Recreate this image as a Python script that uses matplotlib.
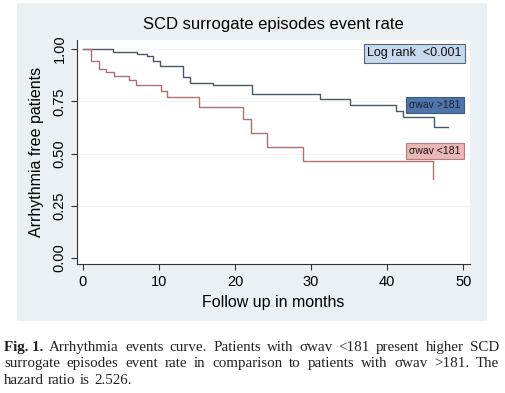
import matplotlib
matplotlib.use("Agg")
import matplotlib.pyplot as plt
from matplotlib.patches import Rectangle

# Kaplan-Meier steps
high_t = [0, 3.9, 7.1, 8.4, 9.2, 10.1, 13.1, 14.1, 17.1, 22.2, 31.2, 35.1, 41.1, 42.1, 46.1, 48.0]
high_s = [1.0, 0.984, 0.976, 0.967, 0.943, 0.919, 0.866, 0.839, 0.826, 0.785, 0.761, 0.731, 0.705, 0.673, 0.628, 0.628]

low_t = [0, 1.0, 2.1, 3.1, 4.1, 6.0, 7.0, 10.2, 11.0, 15.2, 21.1, 22.1, 24.2, 29.0, 46.0]
low_s = [1.0, 0.944, 0.907, 0.892, 0.872, 0.852, 0.828, 0.799, 0.772, 0.724, 0.664, 0.600, 0.533, 0.466, 0.38]

x_ticks = [0, 10, 20, 30, 40, 50]
y_ticks = [0.0, 0.25, 0.5, 0.75, 1.0]
y_ticklabels = ["0.00", "0.25", "0.50", "0.75", "1.00"]

caption = [
    "Arrhythmia events curve. Patients with σwav <181 present higher SCD",
    "surrogate episodes event rate in comparison to patients with σwav >181. The",
    "hazard ratio is 2.526.",
]

plt.rcParams['font.family'] = ['Liberation Sans', 'DejaVu Sans']

fig = plt.figure(figsize=(5.06, 3.93), dpi=100)
fig.patch.set_facecolor('white')

# stata-like grey panel behind the plot
fig.patches.append(Rectangle((0.0336, 0.183), 0.929, 0.809, transform=fig.transFigure,
                             facecolor='#eaf0f3', edgecolor='none', zorder=-5))

ax = fig.add_axes([0.152, 0.328, 0.777, 0.570])
ax.set_zorder(2)
ax.set_facecolor('white')
ax.set_xlim(-0.79, 50.9)
ax.set_ylim(-0.029, 1.043)

for yv in y_ticks[1:]:
    ax.axhline(yv, color='#f1f4f6', lw=0.8, zorder=1)

ax.step(high_t, high_s, where='post', color='#4a5866', lw=1.0, zorder=3)
ax.step(low_t, low_s, where='post', color='#b07070', lw=1.0, zorder=3)

ax.text(43.6, 0.979, "Log rank  <0.001", ha='center', va='center', fontsize=9, color='#111111',
        bbox=dict(boxstyle='square,pad=0.25', facecolor='#c6d9ee', edgecolor='#5a6470', lw=0.8), zorder=5)
ax.text(46.3, 0.732, "σwav >181", ha='center', va='center', fontsize=7.5, color='#1a2233',
        bbox=dict(boxstyle='square,pad=0.3', facecolor='#4f76aa', edgecolor='#3a5a85', lw=0.8), zorder=5)
ax.text(46.3, 0.512, "σwav <181", ha='center', va='center', fontsize=7.5, color='#1a1111',
        bbox=dict(boxstyle='square,pad=0.3', facecolor='#e9b8b4', edgecolor='#b08080', lw=0.8), zorder=5)

ax.spines['top'].set_visible(False)
ax.spines['right'].set_visible(False)
ax.spines['left'].set_color('#333333')
ax.spines['bottom'].set_color('#333333')
ax.set_xticks(x_ticks)
ax.set_yticks(y_ticks)
ax.set_yticklabels(y_ticklabels, rotation=90, va='center')
ax.tick_params(labelsize=10.5, length=4, color='#333333')
ax.set_xlabel("Follow up in months", fontsize=11.5, labelpad=5)
ax.set_ylabel("Arrhythmia free patients", fontsize=11.5, labelpad=6)
ax.set_title("SCD surrogate episodes event rate", fontsize=12, pad=8)

# caption, justified by hand
fig.canvas.draw()
renderer = fig.canvas.get_renderer()
x0, x1 = 4 / 506, 499 / 506
line_y = [1 - 351 / 393, 1 - 367 / 393, 1 - 384 / 393]
serif = dict(family=['Liberation Serif', 'DejaVu Serif'], fontsize=10.8, color='#222222')

for i, line in enumerate(caption):
    words = line.split(" ")
    if i == 0:
        words = ["Fig. 1."] + words
    txts = []
    for j, w in enumerate(words):
        kw = dict(serif)
        if i == 0 and j == 0:
            kw['weight'] = 'bold'
        t = fig.text(0, line_y[i], w, va='baseline', ha='left', **kw)
        txts.append(t)
    widths = [t.get_window_extent(renderer).width / fig.bbox.width for t in txts]
    if i < len(caption) - 1:
        gap = (x1 - x0 - sum(widths)) / (len(words) - 1)
    else:
        gap = 4.2 / 506
    x = x0
    for t, w in zip(txts, widths):
        t.set_x(x)
        x += w + gap

fig.savefig("out.png", dpi=100, facecolor='white')
